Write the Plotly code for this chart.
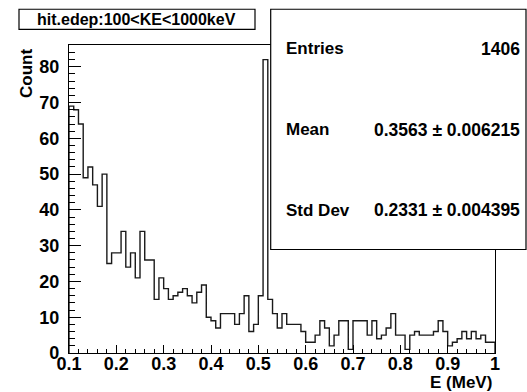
import numpy as np
import plotly.graph_objects as go

# ---- data ----
x_min, x_max, n_bins = 0.1, 1.0, 90
counts = [69, 68, 64, 49, 52, 47, 41, 50, 25, 28,
          28, 34, 24, 28, 21, 34, 26, 26, 15, 21,
          18, 15, 16, 17, 18, 16, 14, 17, 19, 10,
          9, 7, 11, 11, 11, 8, 11, 16, 6, 8,
          16, 82, 15, 11, 7, 11, 8, 8, 8, 6,
          3, 3, 5, 9, 7, 2, 5, 9, 9, 1,
          9, 9, 9, 5, 9, 4, 5, 7, 11, 5,
          5, 1, 5, 6, 5, 5, 5, 6, 9, 6,
          2, 3, 4, 6, 4, 6, 4, 5, 3, 3]
title_text = "hit.edep:100<KE<1000keV"
stats_labels = ["Entries", "Mean", "Std Dev"]
stats_values = ["1406", "0.3563 \u00b1 0.006215", "0.2331 \u00b1 0.004395"]
x_title = "E (MeV)"
y_title = "Count"

# ---- geometry ----
W, H = 527, 392
L, R, T, B = 69, 495, 45, 352.7
pw, ph = R - L, B - T

def px(x):
    return (x - L) / pw

def py(y):
    return (B - y) / ph

edges = np.linspace(x_min, x_max, n_bins + 1)
xs = [x_min] + list(edges[:-1]) + [x_max, x_max]
ys = [0] + list(counts) + [counts[-1], 0]

FONT = "Liberation Sans, Arial, sans-serif"

fig = go.Figure()
fig.add_trace(go.Scatter(x=xs, y=ys, mode="lines", line=dict(color="#1a1a1a", width=1.4, shape="hv"),
                         hoverinfo="skip", showlegend=False))

ymax = max(counts) * 1.05

fig.update_layout(
    width=W, height=H,
    margin=dict(l=L, r=W - R, t=T, b=H - B, pad=0),
    paper_bgcolor="white", plot_bgcolor="white",
    showlegend=False,
    font=dict(family=FONT, color="black", size=18, weight="bold"),
    xaxis=dict(range=[x_min, x_max], showgrid=False, zeroline=False,
               showline=True, linecolor="black", linewidth=1.3, mirror=True,
               ticks="inside", ticklen=8, tickwidth=1, tickcolor="black",
               tick0=0.1, dtick=0.1,
               minor=dict(ticks="inside", ticklen=4, dtick=0.02, tickcolor="black", tickwidth=1, showgrid=False),
               tickfont=dict(size=18, family=FONT, weight="bold"), ticklabelstandoff=-6),
    yaxis=dict(range=[0, ymax], showgrid=False, zeroline=False,
               showline=True, linecolor="black", linewidth=1.3, mirror=True,
               ticks="inside", ticklen=12, tickwidth=1, tickcolor="black",
               tick0=0, dtick=10,
               minor=dict(ticks="inside", ticklen=6, dtick=2, tickcolor="black", tickwidth=1, showgrid=False),
               tickfont=dict(size=18, family=FONT, weight="bold"), ticklabelstandoff=5),
)

# title box
fig.add_shape(type="rect", xref="paper", yref="paper",
              x0=px(19), x1=px(255), y0=py(29.3), y1=py(9.3),
              line=dict(color="black", width=1.2), fillcolor="white", layer="above")
fig.add_annotation(xref="paper", yref="paper", x=px(136), y=py(19.5), text=title_text,
                   showarrow=False, xanchor="center", yanchor="middle",
                   font=dict(size=16, family=FONT, weight="bold"))

# stats box
fig.add_shape(type="rect", xref="paper", yref="paper",
              x0=px(270.7), x1=px(526), y0=py(249.3), y1=py(9.3),
              line=dict(color="black", width=1.2), fillcolor="white", layer="above")
rows_y = [48.5, 129.5, 210]
for lab, val, yy in zip(stats_labels, stats_values, rows_y):
    fig.add_annotation(xref="paper", yref="paper", x=px(283.5), y=py(yy), text=lab,
                       showarrow=False, xanchor="left", yanchor="middle",
                       font=dict(size=17, family=FONT, weight="bold"))
    fig.add_annotation(xref="paper", yref="paper", x=px(522), y=py(yy), text=val,
                       showarrow=False, xanchor="right", yanchor="middle",
                       font=dict(size=17.5, family=FONT, weight="bold"))

# axis titles
fig.add_annotation(xref="paper", yref="paper", x=px(26.5), y=py(73.5), text=y_title,
                   showarrow=False, xanchor="center", yanchor="middle", textangle=-90,
                   font=dict(size=17, family=FONT, weight="bold"))
fig.add_annotation(xref="paper", yref="paper", x=px(494), y=py(382.5), text=x_title,
                   showarrow=False, xanchor="right", yanchor="middle",
                   font=dict(size=17, family=FONT, weight="bold"))

fig.write_html("out.html", config={"displayModeBar": False},
               post_script="document.body.style.margin='0';document.body.style.overflow='hidden';")
